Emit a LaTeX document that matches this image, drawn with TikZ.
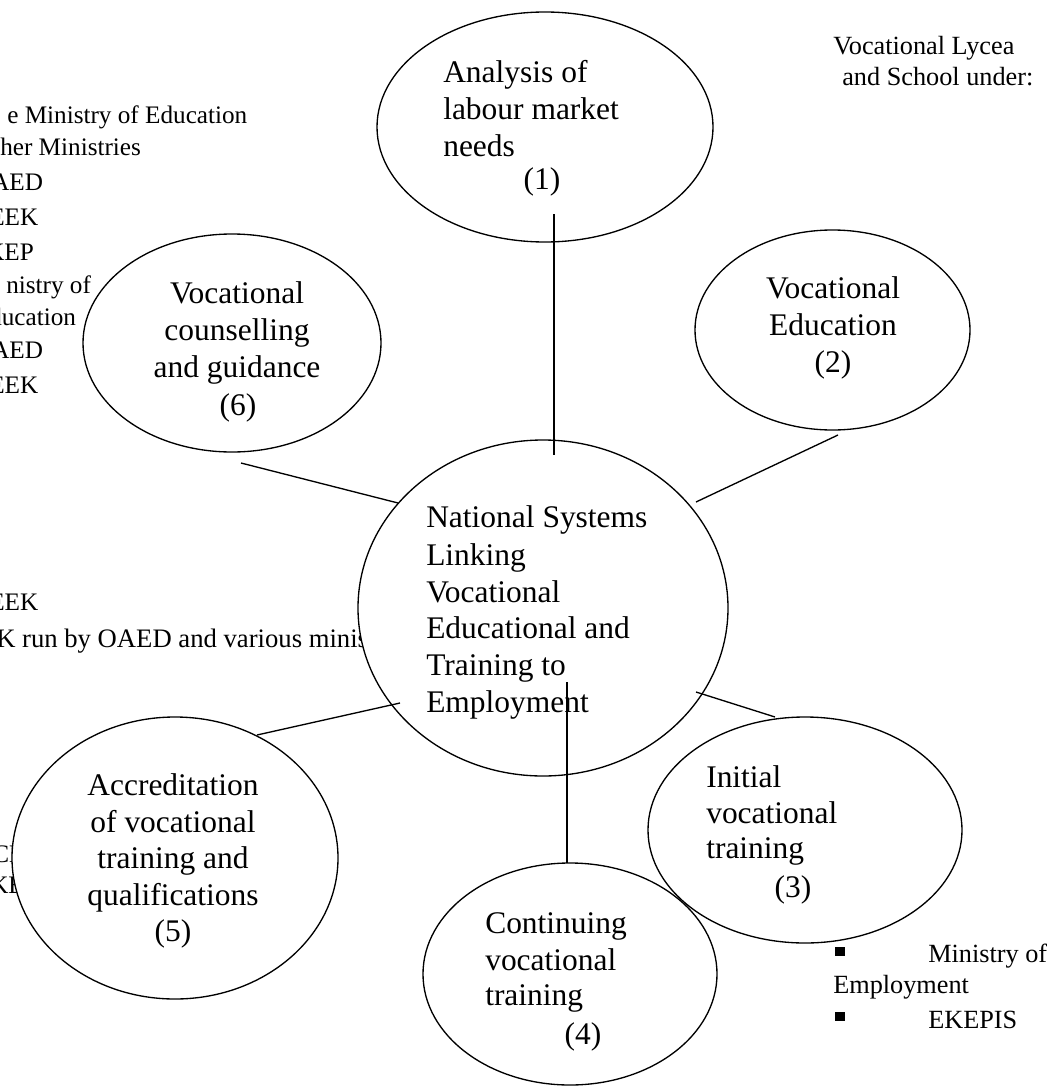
\documentclass[tikz,border=0pt]{standalone}
\usepackage{fontspec}
\setmainfont{Liberation Serif}
\usetikzlibrary{shapes.geometric,calc}
\begin{document}
\begin{tikzpicture}[x=0.75pt,y=-0.75pt,
  bubble/.style={ellipse,draw,line width=1pt,fill=white,inner sep=0pt,outer sep=0pt},
  big/.style={font=\fontsize{23.6pt}{27.75pt}\selectfont,inner sep=0pt},
  bigl/.style={big,anchor=base west},
  bigc/.style={big,anchor=base},
  small/.style={font=\fontsize{18.9pt}{23pt}\selectfont,inner sep=0pt,anchor=base west},
  smallr/.style={font=\fontsize{19.7pt}{23pt}\selectfont,inner sep=0pt,anchor=base west},
  link/.style={line width=1pt}]
\useasboundingbox (0,0) rectangle (1054,1088);
\clip (0,0) rectangle (1054,1088);
\fill[white] (0,0) rectangle (1054,1088);

% side texts (partly cut by the page edge and covered by the bubbles)
\node[small] (s1) at (7,123) {e Ministry of Education};
\node[small] (s2) at (0,155) {her Ministries};
\node[small] (s3) at (-9,190) {AED};
\node[small] (s4) at (-11,225) {EEK};
\node[small] (s5) at (-14,260) {KEP};
\node[small] (s6) at (6,293) {nistry of};
\node[small] (s7) at (-11,325) {ducation};
\node[small] (s8) at (-9,358) {AED};
\node[small] (s9) at (-11,393) {EEK};
\node[small] (s10) at (-11,610) {EEK};
\node[small,font=\fontsize{20pt}{23pt}\selectfont] (s11) at (-4,647) {K run by OAED and various ministries};
\node[small] (s12) at (-8,862) {CEK};
\node[small] (s13) at (-10,893) {KEK};

\node[smallr] (r1) at (833,55) {Vocational Lycea};
\node[smallr] (r2) at (842,85) {and School under:};
\node[smallr] (b1) at (835,956) {\rule{7pt}{7pt}};
\node[smallr] (r3) at (928,962) {Ministry of};
\node[smallr] (r4) at (833,993) {Employment};
\node[smallr] (b2) at (835,1021) {\rule{7pt}{7pt}};
\node[smallr] (r5) at (928,1028) {EKEPIS};

% bubbles
\node[bubble,minimum width=252pt,minimum height=172.5pt] (e1) at (545,127) {};
\node[bubble,minimum width=206.25pt,minimum height=150pt] (e2) at (832.5,330) {};
\node[bubble,minimum width=223.5pt,minimum height=163.5pt] (e6) at (232,343) {};
\node[bubble,minimum width=277.5pt,minimum height=252pt] (c) at (543,608) {};
\node[bubble,minimum width=244.5pt,minimum height=211.5pt] (e5) at (175,858) {};
\node[bubble,minimum width=235.5pt,minimum height=169.5pt] (e3) at (805,830) {};
\node[bubble,minimum width=220.5pt,minimum height=166.5pt] (e4) at (570,974) {};

% connectors
\draw[link] ($(e1.center)+(9,87)$) -- ($(c.center)+(11,-153)$);
\draw[link] ($(e2.center)+(5.5,105)$) -- ($(c.center)+(153,-106)$);
\draw[link] ($(e6.center)+(9,120)$) -- ($(c.center)+(-145,-105)$);
\draw[link] ($(e5.center)+(82,-123)$) -- ($(c.center)+(-143,95)$);
\draw[link] ($(c.center)+(153,84)$) -- ($(e3.center)+(-30,-113)$);
\draw[link] ($(c.center)+(24,74)$) -- ($(e4.center)+(-3,-111)$);

% bubble texts
\node[bigl] (t1a) at (443,83) {Analysis of};
\node[bigl] (t1b) at (443,119) {labour market};
\node[bigl] (t1c) at (443,156) {needs};
\node[bigc] (t1d) at (542,189) {(1)};

\node[bigc] (t2a) at (833,298) {Vocational};
\node[bigc] (t2b) at (833,335) {Education};
\node[bigc] (t2c) at (833,372) {(2)};

\node[bigc] (t6a) at (237,303) {Vocational};
\node[bigc] (t6b) at (237,340) {counselling};
\node[bigc] (t6c) at (237,377) {and guidance};
\node[bigc] (t6d) at (238,415) {(6)};

\node[bigl] (tca) at (426,527) {National Systems};
\node[bigl] (tcb) at (426,565) {Linking};
\node[bigl] (tcc) at (426,602) {Vocational};
\node[bigl] (tcd) at (426,638) {Educational and};
\node[bigl] (tce) at (426,675) {Training to};
\node[bigl] (tcf) at (426,712) {Employment};

\node[bigc] (t5a) at (173,795) {Accreditation};
\node[bigc] (t5b) at (173,832) {of vocational};
\node[bigc] (t5c) at (173,868) {training and};
\node[bigc] (t5d) at (173,905) {qualifications};
\node[bigc] (t5e) at (173,941) {(5)};

\node[bigl] (t3a) at (706,787) {Initial};
\node[bigl] (t3b) at (706,823) {vocational};
\node[bigl] (t3c) at (706,858) {training};
\node[bigc] (t3d) at (793,897) {(3)};

\node[bigl] (t4a) at (485,933) {Continuing};
\node[bigl] (t4b) at (485,970) {vocational};
\node[bigl] (t4c) at (485,1005) {training};
\node[bigc] (t4d) at (583,1044) {(4)};
\end{tikzpicture}
\end{document}
